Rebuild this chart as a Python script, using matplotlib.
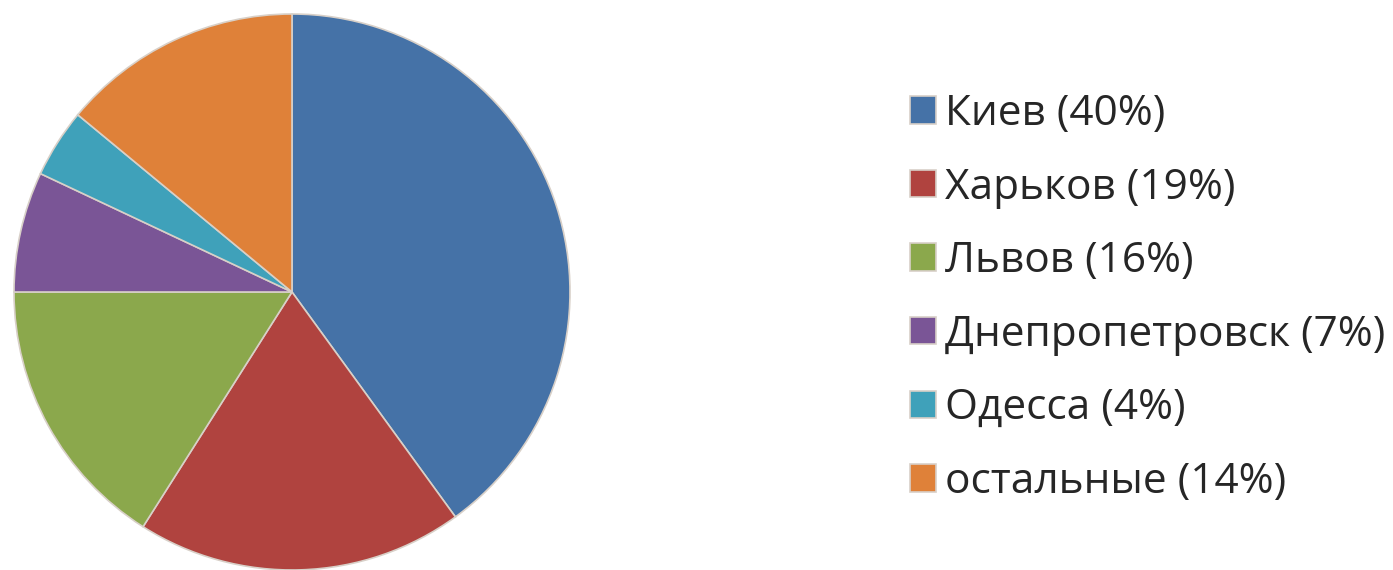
import matplotlib.pyplot as plt

# city shares, %
cities = ['Киев', 'Харьков', 'Львов', 'Днепропетровск', 'Одесса', 'остальные']
shares = [40, 19, 16, 7, 4, 14]
colors = ['#4572A7', '#B0433F', '#8BA84C', '#7A5596', '#3FA1BA', '#DF8139']

plt.rcParams['font.family'] = ['Open Sans', 'DejaVu Sans']

fig = plt.figure(figsize=(13.93, 5.70), dpi=100)
ax = fig.add_axes([12 / 1393, 0.0, 560 / 1393, 556 / 570])

# pie starts at 12 o'clock and goes clockwise
wedges, _ = ax.pie(shares, colors=colors, startangle=90, counterclock=False,
                   wedgeprops=dict(edgecolor='#d8d0c8', linewidth=1.2))
ax.set_xlim(-1.0, 1.0)
ax.set_ylim(-1.0, 1.0)

labels = [c + ' (' + str(s) + '%)' for c, s in zip(cities, shares)]
fig.legend(wedges, labels, loc='upper left', bbox_to_anchor=(893 / 1393, 494 / 570),
           frameon=False, fontsize=30.5, handlelength=0.62, handleheight=0.62,
           handletextpad=0.2, labelspacing=0.745, borderaxespad=0, labelcolor='#262626')

fig.savefig('out.png', dpi=100)
